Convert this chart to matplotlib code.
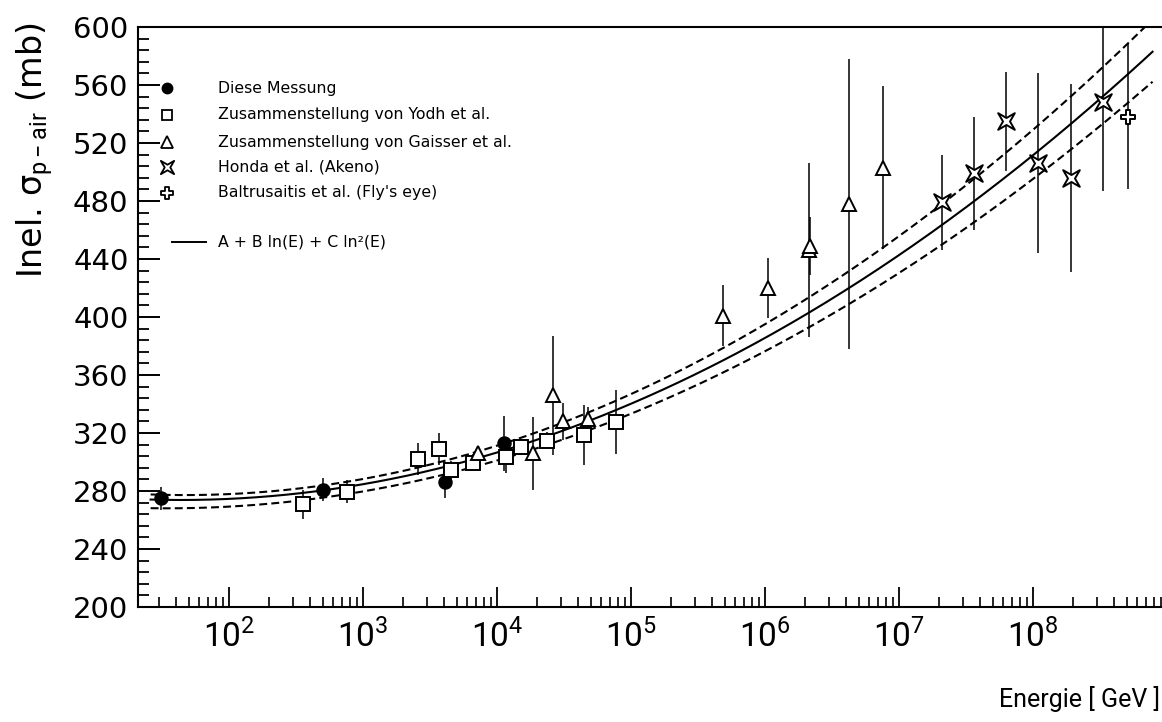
import numpy as np
import matplotlib
matplotlib.use("Agg")
import matplotlib.pyplot as plt
from matplotlib import font_manager
from matplotlib.path import Path
from matplotlib.ticker import LogLocator, MultipleLocator, FuncFormatter, NullFormatter


def first_font(names):
    for n in names:
        try:
            font_manager.findfont(font_manager.FontProperties(family=n),
                                  fallback_to_default=False)
            return n
        except ValueError:
            pass
    return "DejaVu Sans"


NARROW = first_font(["Liberation Sans Narrow", "Roboto", "Liberation Sans"])
plt.rcParams["font.family"] = ["DejaVu Sans"]
plt.rcParams["mathtext.fontset"] = "custom"
plt.rcParams["mathtext.rm"] = NARROW
plt.rcParams["mathtext.it"] = "DejaVu Sans"
plt.rcParams["mathtext.bf"] = NARROW

# ---------------- data ----------------
# Diese Messung
E_diese = [31, 505, 4.1e3, 1.12e4]
sig_diese = [275, 281, 286, 313]
err_diese = [8, 8, 11, 19]

# Zusammenstellung von Yodh et al.
E_yodh = [355, 755, 2570, 3715, 4570, 6650, 11750, 15140, 23440, 44670, 77620]
sig_yodh = [271, 279.5, 302, 309, 294.5, 299.5, 303.7, 310.6, 314.7, 318.6, 327.8]
err_yodh = [10, 8, 11, 11, 6, 6, 11, 5, 6, 21, 22]

# Zusammenstellung von Gaisser et al.
E_gaisser = [7240, 18620, 26300, 31260, 47860, 4.9e5, 1.047e6, 2.14e6, 2.16e6, 4.27e6, 7.55e6]
sig_gaisser = [306, 306, 346, 328, 330, 401, 420, 446, 449, 478, 503]
err_gaisser = [5, 25, 41, 13, 8, 21, 21, 60, 20, 100, 56]

# Honda et al. (Akeno)
E_honda = [2.08e7, 3.65e7, 6.31e7, 1.096e8, 1.905e8, 3.31e8]
sig_honda = [479, 499, 535, 506, 496, 548]
err_honda = [33, 39, 34, 62, 65, 61]

# Baltrusaitis et al. (Fly's eye)
E_fly = [5.13e8]
sig_fly = [538]
err_fly = [50]

# fit A + B ln(E) + C ln^2(E) with its upper / lower error band
fit_central = (289.6, -8.369, 1.1085)
fit_upper = (294.8, -9.142, 1.1868)
fit_lower = (280.9, -7.257, 1.0255)
fit_range = (26.0, 7.8e8)

x_ticks_exp = [2, 3, 4, 5, 6, 7, 8]

# ---------------- figure ----------------
W, H = 1162, 722
fig = plt.figure(figsize=(W / 100, H / 100), dpi=100)
X0, X1, Y0, Y1 = 138.2, 1167.0, 27.0, 607.0
ax = fig.add_axes([X0 / W, 1 - Y1 / H, (X1 - X0) / W, (Y1 - Y0) / H])
ax.set_xscale("log")
ax.set_xlim(21, 1e9)
ax.set_ylim(200, 600)

# fit curves
E_fit = np.logspace(np.log10(fit_range[0]), np.log10(fit_range[1]), 400)
lnE = np.log(E_fit)


def model(p):
    a, b, c = p
    return a + b * lnE + c * lnE ** 2


ax.plot(E_fit, model(fit_central), color="k", lw=1.5, zorder=2)
for p in (fit_upper, fit_lower):
    ln_, = ax.plot(E_fit, model(p), color="k", lw=1.5, zorder=2)
    ln_.set_dashes((3.8, 2.0))

# star marker (Honda) and open cross (Fly's eye)
r = 0.42
star_path = Path([(1, 1), (0, r), (-1, 1), (-r, 0), (-1, -1), (0, -r), (1, -1), (r, 0), (1, 1)],
                 [Path.MOVETO] + [Path.LINETO] * 7 + [Path.CLOSEPOLY])
w = 0.32
cross_path = Path([(-w, 1), (w, 1), (w, w), (1, w), (1, -w), (w, -w), (w, -1), (-w, -1),
                   (-w, -w), (-1, -w), (-1, w), (-w, w), (-w, 1)],
                  [Path.MOVETO] + [Path.LINETO] * 11 + [Path.CLOSEPOLY])

series = [
    (E_diese, sig_diese, err_diese, dict(marker="o", ms=9, mfc="k", mec="k")),
    (E_yodh, sig_yodh, err_yodh, dict(marker="s", ms=9.5, mfc="white", mec="k")),
    (E_gaisser, sig_gaisser, err_gaisser, dict(marker="^", ms=10, mfc="white", mec="k")),
    (E_honda, sig_honda, err_honda, dict(marker=star_path, ms=12, mfc="white", mec="k")),
    (E_fly, sig_fly, err_fly, dict(marker=cross_path, ms=10, mfc="white", mec="k")),
]
for E, s, e, style in series:
    ax.errorbar(E, s, yerr=e, fmt="none", ecolor="k", elinewidth=1.1, capsize=0, zorder=3)
    ax.plot(E, s, ls="none", mew=1.4, zorder=4, **style)

# axes frame and ticks
for side in ("left", "bottom", "top"):
    ax.spines[side].set_linewidth(1.5)
ax.spines["right"].set_visible(False)

ax.xaxis.set_major_locator(LogLocator(base=10, numticks=20))
ax.xaxis.set_minor_locator(LogLocator(base=10, subs=np.arange(2, 10), numticks=200))
ax.xaxis.set_major_formatter(FuncFormatter(
    lambda v, p: (r"$10^{%d}$" % int(round(np.log10(v))))
    if int(round(np.log10(v))) in x_ticks_exp else ""))
ax.xaxis.set_minor_formatter(NullFormatter())
ax.yaxis.set_major_locator(MultipleLocator(40))
ax.yaxis.set_minor_locator(MultipleLocator(8))

ax.tick_params(axis="both", which="both", direction="in", top=False, right=False, colors="k")
ax.tick_params(axis="y", which="major", length=15.8, width=1.4, pad=7, labelsize=21)
ax.tick_params(axis="y", which="minor", length=7.9, width=1.3)
ax.tick_params(axis="x", which="major", length=14.4, width=1.3, pad=9, labelsize=24)
ax.tick_params(axis="x", which="minor", length=7.2, width=1.2)

# axis titles
fig.text(1160 / W, 1 - 699 / H, "Energie [ GeV ]", ha="right", va="center",
         fontsize=18, family=NARROW)
fig.text(35 / W, 1 - 150 / H, r"Inel. $\sigma_{\mathrm{p-air}}$ (mb)", rotation=90,
         ha="center", va="center", fontsize=24)

# legend, placed in pixel positions of the frame
def fx(px):
    return (px - X0) / (X1 - X0)


def fy(py):
    return (Y1 - py) / (Y1 - Y0)


labels = ["Diese Messung", "Zusammenstellung von Yodh et al.",
          "Zusammenstellung von Gaisser et al.", "Honda et al. (Akeno)",
          "Baltrusaitis et al. (Fly's eye)"]
rows = [88, 115, 142, 167, 193]
for (E, s, e, style), lab, py in zip(series, labels, rows):
    st = dict(style)
    st["ms"] = st["ms"] * 0.8
    ax.plot([fx(167)], [fy(py)], ls="none", mew=1.3, transform=ax.transAxes,
            clip_on=False, **st)
    ax.text(fx(218), fy(py), lab, transform=ax.transAxes, ha="left", va="center",
            fontsize=11.3)
ax.plot([fx(172), fx(206)], [fy(242), fy(242)], color="k", lw=1.4, transform=ax.transAxes)
ax.text(fx(218), fy(242), "A + B ln(E) + C ln²(E)", transform=ax.transAxes,
        ha="left", va="center", fontsize=11.3)

fig.savefig("out.png", dpi=100)
